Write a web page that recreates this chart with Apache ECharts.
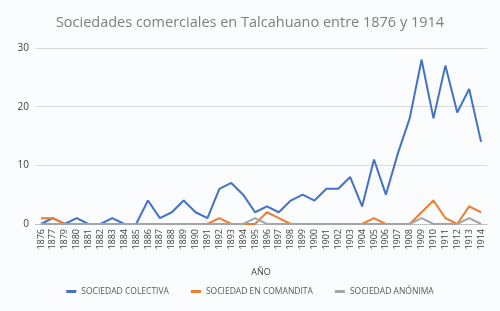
<!DOCTYPE html>
<html>
<head>
<meta charset="utf-8">
<script src="https://cdn.jsdelivr.net/npm/echarts@6/dist/echarts.min.js"></script>
<style>
  html, body { margin: 0; padding: 0; background: #fafcfe; }
  #chart { width: 500px; height: 311px; }
</style>
</head>
<body>
<div id="chart"></div>
<script>
const years = ['1876', '1877', '1879', '1880', '1881', '1882', '1883', '1884', '1885', '1886',
  '1887', '1888', '1889', '1890', '1891', '1892', '1893', '1894', '1895', '1896',
  '1897', '1898', '1899', '1900', '1901', '1902', '1903', '1904', '1905', '1906',
  '1907', '1908', '1909', '1910', '1911', '1912', '1913', '1914']

const colectiva = [0, 1, 0, 1, 0, 0, 1, 0, 0, 4,
  1, 2, 4, 2, 1, 6, 7, 5, 2, 3,
  2, 4, 5, 4, 6, 6, 8, 3, 11, 5,
  12, 18, 28, 18, 27, 19, 23, 14]

const comandita = [1, 1, 0, 0, 0, 0, 0, 0, 0, 0,
  0, 0, 0, 0, 0, 1, 0, 0, 0, 2,
  1, 0, 0, 0, 0, 0, 0, 0, 1, 0,
  0, 0, 2, 4, 1, 0, 3, 2]

const anonima = [0, 0, 0, 0, 0, 0, 0, 0, 0, 0,
  0, 0, 0, 0, 0, 0, 0, 0, 1, 0,
  0, 0, 0, 0, 0, 0, 0, 0, 0, 0,
  0, 0, 1, 0, 0, 0, 1, 0]

const yTicks = [0, 10, 20, 30]

const fontFamily = '"Open Sans", "Noto Sans", sans-serif'

const chart = echarts.init(document.getElementById('chart'))

const lineSeries = (name, data, color) => ({
  name,
  type: 'line',
  data,
  symbol: 'none',
  lineStyle: { width: 2, color },
  itemStyle: { color },
})

const option = {
  backgroundColor: '#fafcfe',
  animation: false,
  title: {
    text: 'Sociedades comerciales en Talcahuano entre 1876 y 1914',
    left: 'center',
    top: 10,
    textStyle: {
      color: '#7f7f7f',
      fontSize: 14.5,
      fontWeight: 'normal',
      fontFamily,
    },
  },
  legend: {
    bottom: 10,
    left: 'center',
    itemWidth: 10,
    itemHeight: 3,
    itemGap: 22,
    icon: 'rect',
    textStyle: { color: '#595959', fontSize: 8.5, fontFamily },
    data: ['SOCIEDAD COLECTIVA', 'SOCIEDAD EN COMANDITA', 'SOCIEDAD ANÓNIMA'],
  },
  grid: { left: 35, right: 13, top: 48, bottom: 87 },
  xAxis: {
    type: 'category',
    data: years,
    boundaryGap: true,
    name: 'AÑO',
    nameLocation: 'middle',
    nameGap: 44,
    nameTextStyle: { color: '#404040', fontSize: 9, fontFamily },
    axisLine: { lineStyle: { color: '#bfbfbf', width: 1 } },
    axisTick: { show: false },
    axisLabel: {
      rotate: 90,
      interval: 0,
      color: '#404040',
      fontSize: 9,
      fontFamily,
      margin: 5,
    },
  },
  yAxis: {
    type: 'value',
    min: yTicks[0],
    max: yTicks[yTicks.length - 1],
    interval: 10,
    axisLine: { show: false },
    axisTick: { show: false },
    axisLabel: { color: '#404040', fontSize: 10, fontFamily, margin: 6 },
    splitLine: { lineStyle: { color: '#d9d9d9', width: 1 } },
  },
  series: [
    lineSeries('SOCIEDAD COLECTIVA', colectiva, '#4472c4'),
    lineSeries('SOCIEDAD EN COMANDITA', comandita, '#ed7d31'),
    lineSeries('SOCIEDAD ANÓNIMA', anonima, '#a5a5a5'),
  ],
}

chart.setOption(option)
</script>
</body>
</html>
